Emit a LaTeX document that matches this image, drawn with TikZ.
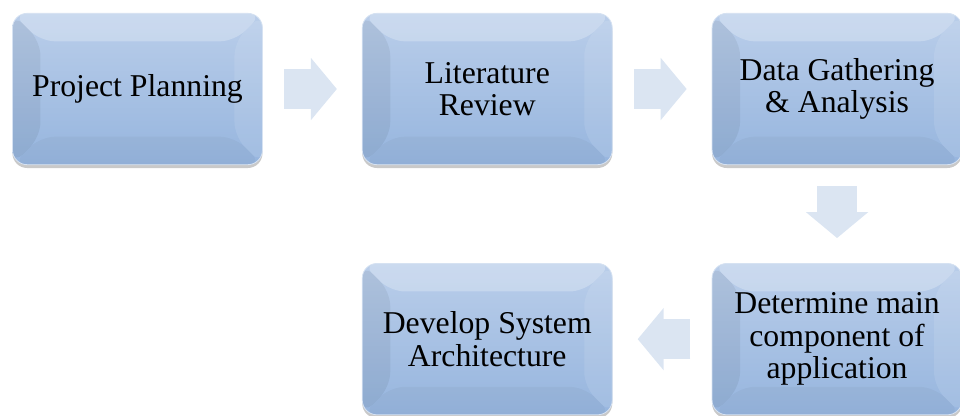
\documentclass[tikz,border=0pt]{standalone}
\usepackage{fontspec}
\setmainfont{Liberation Serif}
\usetikzlibrary{positioning,arrows.meta,shadows}

\definecolor{facetop}{RGB}{186,206,234}
\definecolor{facebot}{RGB}{150,181,222}
\definecolor{flowblue}{RGB}{219,229,242}

\tikzset{
  stage/.style={rounded corners=11pt, minimum width=187.5pt, minimum height=113.5pt,
    top color=facetop, bottom color=facebot, draw=facetop!60!white, line width=.6pt,
    align=center, font=\rmfamily\fontsize{23.8}{24.4}\selectfont,
    drop shadow={shadow xshift=0pt, shadow yshift=-2.5pt, opacity=.3, fill=black!70},
    path picture={
      \coordinate (bnw) at (path picture bounding box.north west);
      \coordinate (bne) at (path picture bounding box.north east);
      \coordinate (bsw) at (path picture bounding box.south west);
      \coordinate (bse) at (path picture bounding box.south east);
      \fill[white,opacity=.25] (bnw) -- (bne) -- ([shift={(-21pt,-21pt)}]bne) -- ([shift={(21pt,-21pt)}]bnw) -- cycle;
      \fill[black,opacity=.06] (bnw) -- ([shift={(21pt,-21pt)}]bnw) -- ([shift={(21pt,21pt)}]bsw) -- (bsw) -- cycle;
      \fill[white,opacity=.1] (bne) -- (bse) -- ([shift={(-21pt,21pt)}]bse) -- ([shift={(-21pt,-21pt)}]bne) -- cycle;
      \fill[black,opacity=.03] (bsw) -- ([shift={(21pt,21pt)}]bsw) -- ([shift={(-21pt,21pt)}]bse) -- (bse) -- cycle;
    }},
  flow/.style={color=flowblue, line width=30pt, -{Triangle[width=45.75pt,length=19.5pt]},
    shorten <=16pt, shorten >=18.75pt}
}

\begin{document}
\begin{tikzpicture}
  \useasboundingbox (0,0) rectangle (720pt,-311.25pt);

  \node[stage] (plan) at (103.1pt,-66.75pt) {Project Planning};
  \node[stage, right=74.25pt of plan] (review) {Literature\\Review};
  \node[stage, right=74.25pt of review] (data) {Data Gathering\\\& Analysis};
  \node[stage, below=73.5pt of data] (determine) {Determine main\\component of\\application};
  \node[stage, left=74.25pt of determine] (develop) {Develop System\\Architecture};

  \path[flow]
  (plan) edge (review)
  (review) edge (data)
  (data) edge (determine)
  (determine) edge (develop)
  ;
\end{tikzpicture}
\end{document}
